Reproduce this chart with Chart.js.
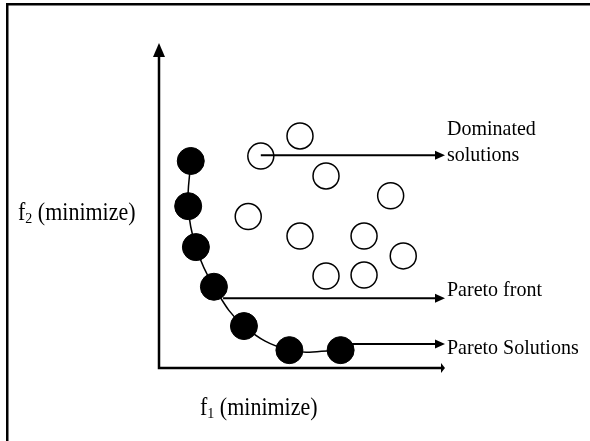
<!DOCTYPE html>
<html>
<head>
<meta charset="utf-8">
<script src="https://cdn.jsdelivr.net/npm/chart.js@4.4.0/dist/chart.umd.min.js"></script>
<style>
  html, body { margin: 0; padding: 0; background: #fff; }
  #wrap { width: 590px; height: 441px; }
</style>
</head>
<body>
<div id="wrap"><canvas id="pareto"></canvas></div>
<script>
// Pareto solutions (filled) - f1 / f2 values
const paretoF1 = [1.11, 1.02, 1.29, 1.92, 2.97, 4.56, 6.35];
const paretoF2 = [6.37, 4.98, 3.72, 2.50, 1.29, 0.55, 0.55];

// Dominated solutions (open circles)
const dominatedF1 = [4.93, 3.56, 5.84, 8.10, 3.12, 4.93, 7.17, 8.54, 5.84, 7.17];
const dominatedF2 = [7.14, 6.52, 5.91, 5.30, 4.66, 4.06, 4.06, 3.45, 2.83, 2.86];

// Callout arrows: start point (in f1/f2 units), run to the end of the f1 axis
const calloutLabels = [["Dominated", "solutions"], ["Pareto front"], ["Pareto Solutions"]];
const calloutF1 = [3.56, 2.24, 6.35];
const calloutF2 = [6.55, 2.15, 0.74];

const xTitle = ["f", "1", " (minimize)"];
const yTitle = ["f", "2", " (minimize)"];

const serif = "'Liberation Serif', 'Times New Roman', serif";
const stretch = 1.1; // the scanned text is a bit taller than it is wide

const toPoints = (xs, ys) => xs.map((x, i) => ({ x: x, y: ys[i] }));

function arrowHead(ctx, x, y, dir, len, half) {
  ctx.beginPath();
  if (dir === 'right') {
    ctx.moveTo(x, y);
    ctx.lineTo(x - len, y - half);
    ctx.lineTo(x - len, y + half);
  } else {
    ctx.moveTo(x, y);
    ctx.lineTo(x - half, y + len);
    ctx.lineTo(x + half, y + len);
  }
  ctx.closePath();
  ctx.fill();
}

function tallText(ctx, text, x, y) {
  ctx.save();
  ctx.translate(x, y);
  ctx.scale(1, stretch);
  ctx.fillText(text, 0, 0);
  ctx.restore();
}

function subText(ctx, parts, x, y, size) {
  ctx.font = size + "px " + serif;
  tallText(ctx, parts[0], x, y);
  x += ctx.measureText(parts[0]).width;
  ctx.font = Math.round(size * 0.62) + "px " + serif;
  tallText(ctx, parts[1], x, y + 3);
  x += ctx.measureText(parts[1]).width;
  ctx.font = size + "px " + serif;
  tallText(ctx, parts[2], x, y);
}

const paretoDecor = {
  id: 'paretoDecor',
  beforeDraw(chart) {
    const ctx = chart.ctx;
    ctx.save();
    ctx.fillStyle = '#fff';
    ctx.fillRect(0, 0, chart.width, chart.height);
    // page frame (left + top)
    ctx.fillStyle = '#000';
    ctx.fillRect(6, 3, 2.5, chart.height);
    ctx.fillRect(6, 3, chart.width, 2.5);
    ctx.restore();
  },
  beforeDatasetsDraw(chart) {
    const { ctx, chartArea: a } = chart;
    ctx.save();
    ctx.strokeStyle = '#000';
    ctx.fillStyle = '#000';
    ctx.lineWidth = 2.5;
    // axes
    ctx.beginPath();
    ctx.moveTo(a.left, a.top + 8);
    ctx.lineTo(a.left, a.bottom);
    ctx.lineTo(a.right - 3, a.bottom);
    ctx.stroke();
    arrowHead(ctx, a.left, a.top, 'up', 14, 6);
    arrowHead(ctx, a.right, a.bottom, 'right', 4, 5);
    // axis titles
    ctx.textBaseline = 'alphabetic';
    subText(ctx, yTitle, 18, 220, 22);
    subText(ctx, xTitle, 200, 415, 22);
    ctx.restore();
  },
  afterDatasetsDraw(chart) {
    const { ctx, scales } = chart;
    const xs = scales.x, ys = scales.y;
    const tipX = xs.getPixelForValue(xs.max);
    ctx.save();
    ctx.strokeStyle = '#000';
    ctx.fillStyle = '#000';
    ctx.lineWidth = 2;
    ctx.font = "20px " + serif;
    ctx.textBaseline = 'middle';
    calloutLabels.forEach((lines, i) => {
      const x0 = xs.getPixelForValue(calloutF1[i]);
      const y0 = ys.getPixelForValue(calloutF2[i]);
      ctx.beginPath();
      ctx.moveTo(x0, y0);
      ctx.lineTo(tipX - 8, y0);
      ctx.stroke();
      arrowHead(ctx, tipX, y0, 'right', 10, 4.5);
      if (lines.length === 2) {
        tallText(ctx, lines[0], tipX + 2, y0 - 26);
        tallText(ctx, lines[1], tipX + 2, y0);
      } else if (i === 1) {
        tallText(ctx, lines[0], tipX + 2, y0 - 8);
      } else {
        tallText(ctx, lines[0], tipX + 2, y0 + 4);
      }
    });
    ctx.restore();
  }
};

const ctx = document.getElementById('pareto').getContext('2d');
const chart = new Chart(ctx, {
  type: 'scatter',
  data: {
    datasets: [
      {
        label: 'Pareto front',
        type: 'line',
        data: toPoints(paretoF1, paretoF2),
        borderColor: '#000',
        borderWidth: 1.5,
        tension: 0.4,
        pointRadius: 0,
        fill: false,
        order: 3
      },
      {
        label: 'Pareto Solutions',
        data: toPoints(paretoF1, paretoF2),
        pointRadius: 13.5,
        pointBackgroundColor: '#000',
        pointBorderColor: '#000',
        pointBorderWidth: 1,
        order: 2
      },
      {
        label: 'Dominated solutions',
        data: toPoints(dominatedF1, dominatedF2),
        pointRadius: 13,
        pointBackgroundColor: '#fff',
        pointBorderColor: '#000',
        pointBorderWidth: 1.5,
        order: 1
      }
    ]
  },
  options: {
    responsive: true,
    maintainAspectRatio: false,
    animation: false,
    layout: { padding: { left: 159, right: 145, top: 43, bottom: 73 } },
    scales: {
      x: { type: 'linear', min: 0, max: 10, display: false },
      y: { type: 'linear', min: 0, max: 10, display: false }
    },
    plugins: {
      legend: { display: false },
      tooltip: { enabled: false }
    }
  },
  plugins: [paretoDecor]
});
</script>
</body>
</html>
